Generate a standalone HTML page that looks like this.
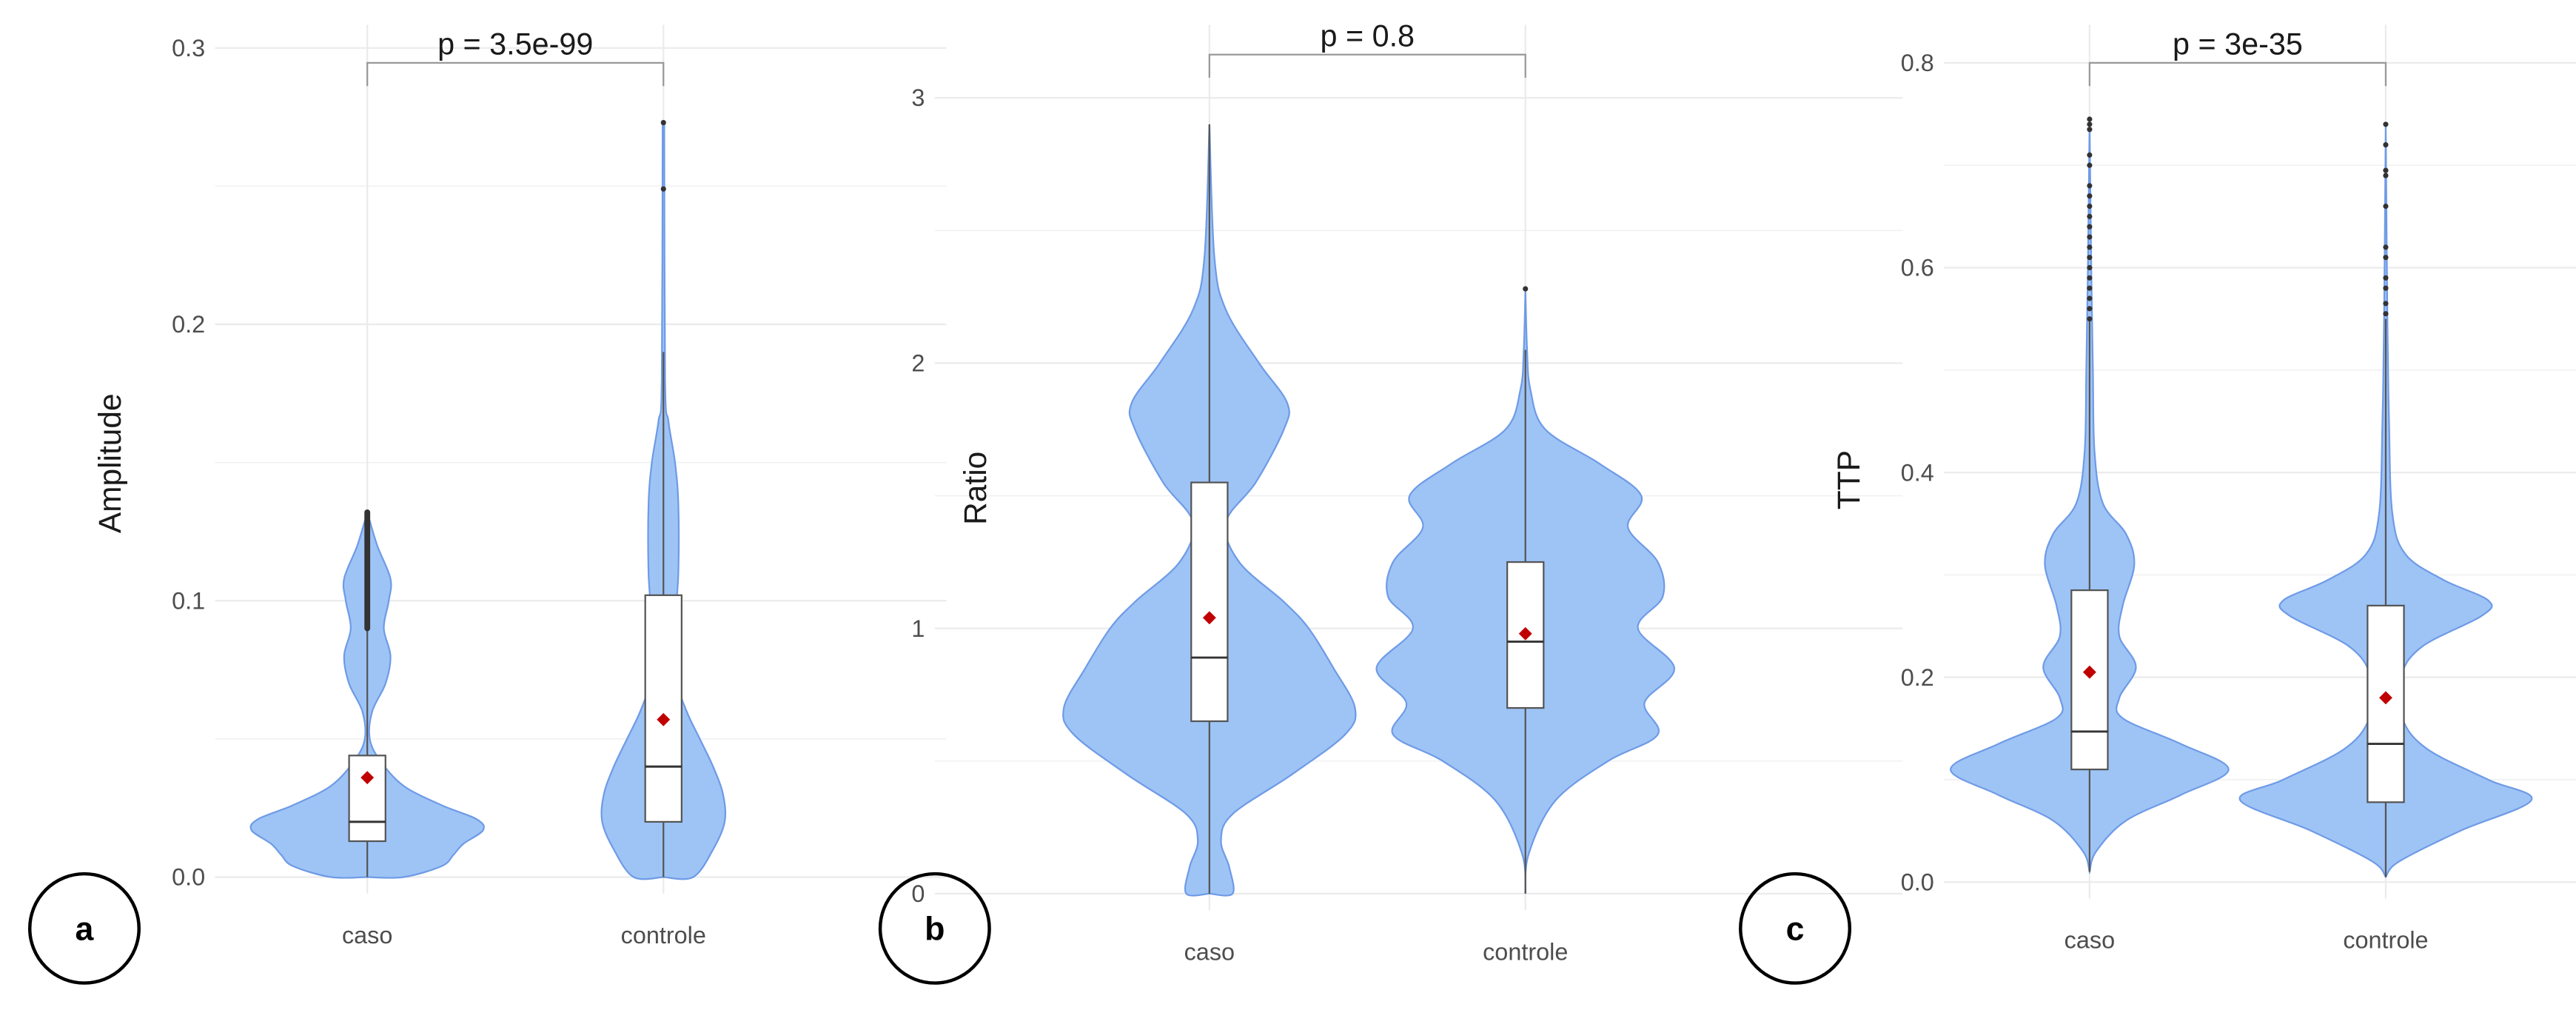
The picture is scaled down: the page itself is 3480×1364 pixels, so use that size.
<!DOCTYPE html>
<html><head><meta charset="utf-8"><style>
html,body{margin:0;padding:0;background:#fff;width:3480px;height:1364px;overflow:hidden}
svg{display:block}
text{font-family:"Liberation Sans",Arial,sans-serif}
</style></head><body>
<svg id="s" width="3480" height="1364" viewBox="0 0 1557 610.3" preserveAspectRatio="none" xmlns="http://www.w3.org/2000/svg"></svg>
<script>
const S=document.getElementById('s');let h='';
function smooth(pts){ // catmull-rom to bezier
  let d='M'+pts[0][0]+','+pts[0][1];
  for(let i=0;i<pts.length-1;i++){
    const p0=pts[Math.max(0,i-1)],p1=pts[i],p2=pts[i+1],p3=pts[Math.min(pts.length-1,i+2)];
    d+=' C'+(p1[0]+(p2[0]-p0[0])/6)+','+(p1[1]+(p2[1]-p0[1])/6)+' '+(p2[0]-(p3[0]-p1[0])/6)+','+(p2[1]-(p3[1]-p1[1])/6)+' '+p2[0]+','+p2[1];
  }
  return d;
}
function panel(o){
  const Y=v=>o.y0-(v)*o.k;
  // grid
  for(const g of o.minor) h+=`<line x1="${o.L}" x2="${o.R}" y1="${Y(g)}" y2="${Y(g)}" stroke="#f2f2f2" stroke-width="0.8"/>`;
  for(const g of o.major){h+=`<line x1="${o.L}" x2="${o.R}" y1="${Y(g[0])}" y2="${Y(g[0])}" stroke="#ebebeb" stroke-width="1"/>`;
    h+=`<text x="${o.L-6}" y="${Y(g[0])+5}" font-size="14.5" fill="#4d4d4d" text-anchor="end">${g[1]}</text>`;}
  for(const x of o.xs) h+=`<line x1="${x}" x2="${x}" y1="${o.top}" y2="${o.y0+10}" stroke="#ebebeb" stroke-width="1"/>`;
  h+=`<text x="${o.xs[0]}" y="${o.y0+40}" font-size="14.5" fill="#4d4d4d" text-anchor="middle">caso</text>`;
  h+=`<text x="${o.xs[1]}" y="${o.y0+40}" font-size="14.5" fill="#4d4d4d" text-anchor="middle">controle</text>`;
  h+=`<text transform="translate(${o.tx},${o.ty}) rotate(-90)" font-size="19" fill="#1a1a1a" text-anchor="middle">${o.title}</text>`;
  // violins
  o.v.forEach((vi,i)=>{const x=o.xs[i];
    const r=vi.prof.map(p=>[x+p[1],Y(p[0])]);const l=vi.prof.slice().reverse().map(p=>[x-p[1],Y(p[0])]);
    let d=smooth(r)+' L'+l[0][0]+','+l[0][1]+smooth(l).replace(/^M[^ ]+/,'')+'Z';
    h+=`<path d="${d}" fill="#9ec4f6" stroke="#6f9be6" stroke-width="1"/>`;
    const b=vi.box;
    h+=`<line x1="${x}" x2="${x}" y1="${Y(b[0])}" y2="${Y(b[4])}" stroke="#555" stroke-width="1"/>`;
    h+=`<rect x="${x-11}" y="${Y(b[3])}" width="22" height="${Y(b[1])-Y(b[3])}" fill="#fff" stroke="#555" stroke-width="1"/>`;
    h+=`<line x1="${x-11}" x2="${x+11}" y1="${Y(b[2])}" y2="${Y(b[2])}" stroke="#333" stroke-width="1.3"/>`;
    (vi.out||[]).forEach(v=>h+=`<circle cx="${x}" cy="${Y(v)}" r="1.6" fill="#333"/>`);
    if(vi.thick) h+=`<line x1="${x}" x2="${x}" y1="${Y(vi.thick[0])}" y2="${Y(vi.thick[1])}" stroke="#333" stroke-width="3.5" stroke-linecap="round"/>`;
    const m=Y(b[5]);h+=`<path d="M${x},${m-4} L${x+4},${m} L${x},${m+4} L${x-4},${m}Z" fill="#c00000"/>`;
  });
  // bracket
  const by=o.by;
  h+=`<path d="M${o.xs[0]},${by+14} V${by} H${o.xs[1]} V${by+14}" fill="none" stroke="#999" stroke-width="1"/>`;
  h+=`<text x="${(o.xs[0]+o.xs[1])/2}" y="${by-5}" font-size="18.5" fill="#1a1a1a" text-anchor="middle">${o.p}</text>`;
  h+=`<ellipse cx="${o.cx}" cy="561" rx="33" ry="33" fill="none" stroke="#000" stroke-width="2"/>`;
  h+=`<text x="${o.cx}" y="568" font-size="20" font-weight="bold" fill="#000" text-anchor="middle">${o.lab}</text>`;
}
// Panel a
panel({y0:530,k:1670,L:130,R:572,top:15,xs:[222,401],tx:73,ty:280,title:'Amplitude',by:38,p:'p = 3.5e-99',cx:51,lab:'a',
 major:[[0,'0.0'],[0.1,'0.1'],[0.2,'0.2'],[0.3,'0.3']],minor:[0.05,0.15,0.25],
 v:[{prof:[[0,0],[0,22],[0.004,45],[0.008,52],[0.012,58],[0.017,70],[0.021,66],[0.026,45],[0.033,22],[0.042,8],[0.05,1.5],[0.06,3],[0.07,11],[0.08,14],[0.09,10],[0.1,13],[0.108,14],[0.12,6],[0.132,0]],
     box:[0,0.013,0.02,0.044,0.09,0.036],thick:[0.09,0.132]},
    {prof:[[0,0],[0,18],[0.01,30],[0.02,37],[0.03,36],[0.04,30],[0.05,22],[0.06,14],[0.07,9],[0.09,7],[0.11,9],[0.135,9],[0.15,7],[0.165,3],[0.18,1],[0.273,0.5]],
     box:[0,0.02,0.04,0.102,0.19,0.057],out:[0.273,0.249]}]});
// Panel b
panel({y0:540,k:160.3,L:565,R:1150,top:15,xs:[731,922],tx:596,ty:295,title:'Ratio',by:33,p:'p = 0.8',cx:565,lab:'b',
 major:[[0,'0'],[1,'1'],[2,'2'],[3,'3']],minor:[0.5,1.5,2.5],
 v:[{prof:[[0,0],[0,14],[0.1,12],[0.2,7],[0.3,14],[0.45,50],[0.6,82],[0.7,88],[0.85,75],[1.0,60],[1.1,45],[1.25,18],[1.4,10],[1.55,28],[1.75,45],[1.85,47],[2.0,30],[2.2,10],[2.4,3],[2.9,0]],
     box:[0,0.65,0.89,1.55,2.9,1.04]},
    {prof:[[0,0],[0.15,2],[0.35,18],[0.5,50],[0.6,80],[0.72,72],[0.85,90],[1.0,68],[1.12,83],[1.25,80],[1.38,62],[1.5,70],[1.62,45],[1.75,12],[1.9,3],[2.05,1],[2.28,0]],
     box:[0,0.7,0.95,1.25,2.05,0.98],out:[2.28]}]});
// Panel c
panel({y0:533,k:618.75,L:1175,R:1725,top:15,xs:[1263,1442],tx:1124,ty:290,title:'TTP',by:38,p:'p = 3e-35',cx:1085,lab:'c',
 major:[[0,'0.0'],[0.2,'0.2'],[0.4,'0.4'],[0.6,'0.6'],[0.8,'0.8']],minor:[0.1,0.3,0.5,0.7],
 v:[{prof:[[0.01,0],[0.03,4],[0.06,22],[0.085,55],[0.11,84],[0.135,55],[0.16,20],[0.18,18],[0.21,28],[0.24,18],[0.27,20],[0.31,27],[0.34,22],[0.37,8],[0.42,3],[0.5,2],[0.6,1],[0.745,0]],
     box:[0.01,0.11,0.147,0.285,0.55,0.205],out:[0.55,0.56,0.57,0.58,0.59,0.6,0.61,0.62,0.63,0.64,0.65,0.66,0.67,0.68,0.7,0.71,0.735,0.74,0.745]},
    {prof:[[0.005,0],[0.02,8],[0.05,45],[0.08,88],[0.1,62],[0.13,25],[0.16,10],[0.2,9],[0.23,22],[0.26,58],[0.275,62],[0.295,35],[0.32,12],[0.36,4],[0.45,2],[0.55,1],[0.74,0]],
     box:[0.005,0.078,0.135,0.27,0.55,0.18],out:[0.555,0.565,0.58,0.59,0.61,0.62,0.66,0.69,0.695,0.72,0.74]}]});
S.innerHTML=h;
</script>
</body></html>
